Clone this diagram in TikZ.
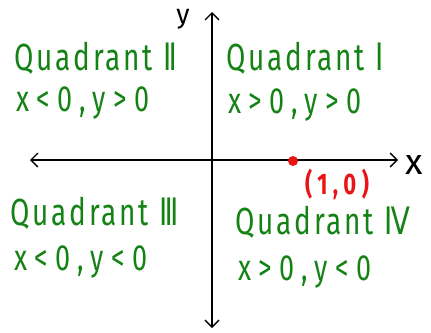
\documentclass[tikz,border=0pt]{standalone}
\usepackage{fontspec}
\setmainfont{Fira Sans}[LetterSpace=10]
\newfontfamily\numfont{DejaVu Sans}
\usetikzlibrary{arrows.meta}
\definecolor{qgreen}{RGB}{20,130,20}
\definecolor{pred}{RGB}{235,20,20}
\newcommand{\tallq}[1]{\scalebox{1}[1.35]{#1}}
\tikzset{
  axis/.style={line width=1.6pt, -{Straight Barb[length=7pt,width=14pt,line width=1.4pt]}},
  qtext/.style={text=qgreen, font=\fontsize{28}{30}\selectfont, anchor=west, inner sep=0pt},
  ctext/.style={text=qgreen, font=\fontsize{27}{29}\selectfont\addfontfeature{LetterSpace=28}, anchor=west, inner sep=0pt},
}
\begin{document}
\begin{tikzpicture}[x=1pt,y=-1pt]
\useasboundingbox (0,0) rectangle (431,332);
\coordinate (o) at (212,160);
\coordinate (xr) at (398,160);
\coordinate (xl) at (30,160);
\coordinate (yt) at (212,12);
\coordinate (yb) at (212,328);
\draw[axis] (o) -- (xr);
\draw[axis] (o) -- (xl);
\draw[axis] (o) -- (yt);
\draw[axis] (o) -- (yb);
\node[font=\fontsize{36}{38}\selectfont, inner sep=0pt] (xlab) at (414,165) {x};
\node[font=\fontsize{27}{29}\selectfont, inner sep=0pt] (ylab) at (183,19) {y};
\node[circle, fill=pred, minimum size=10pt, inner sep=0pt] (p) at (293,161) {};
\node[text=pred, font=\bfseries\fontsize{22}{24}\selectfont\addfontfeature{LetterSpace=25}, inner sep=0pt] (plab) at (337,184) {\tallq{(1,0)}};
\node[qtext] (q2) at (14,58) {\tallq{Quadrant {\numfont Ⅱ}}};
\node[ctext] (c2) at (16,103) {\tallq{x<0,y>0}};
\node[qtext] (q1) at (226,58) {\tallq{Quadrant {\numfont Ⅰ}}};
\node[ctext] (c1) at (228,105) {\tallq{x>0,y>0}};
\node[qtext] (q3) at (10,213) {\tallq{Quadrant {\numfont Ⅲ}}};
\node[ctext] (c3) at (14,262) {\tallq{x<0,y<0}};
\node[qtext] (q4) at (235,222) {\tallq{Quadrant {\numfont Ⅳ}}};
\node[ctext] (c4) at (238,272) {\tallq{x>0,y<0}};
\end{tikzpicture}
\end{document}
